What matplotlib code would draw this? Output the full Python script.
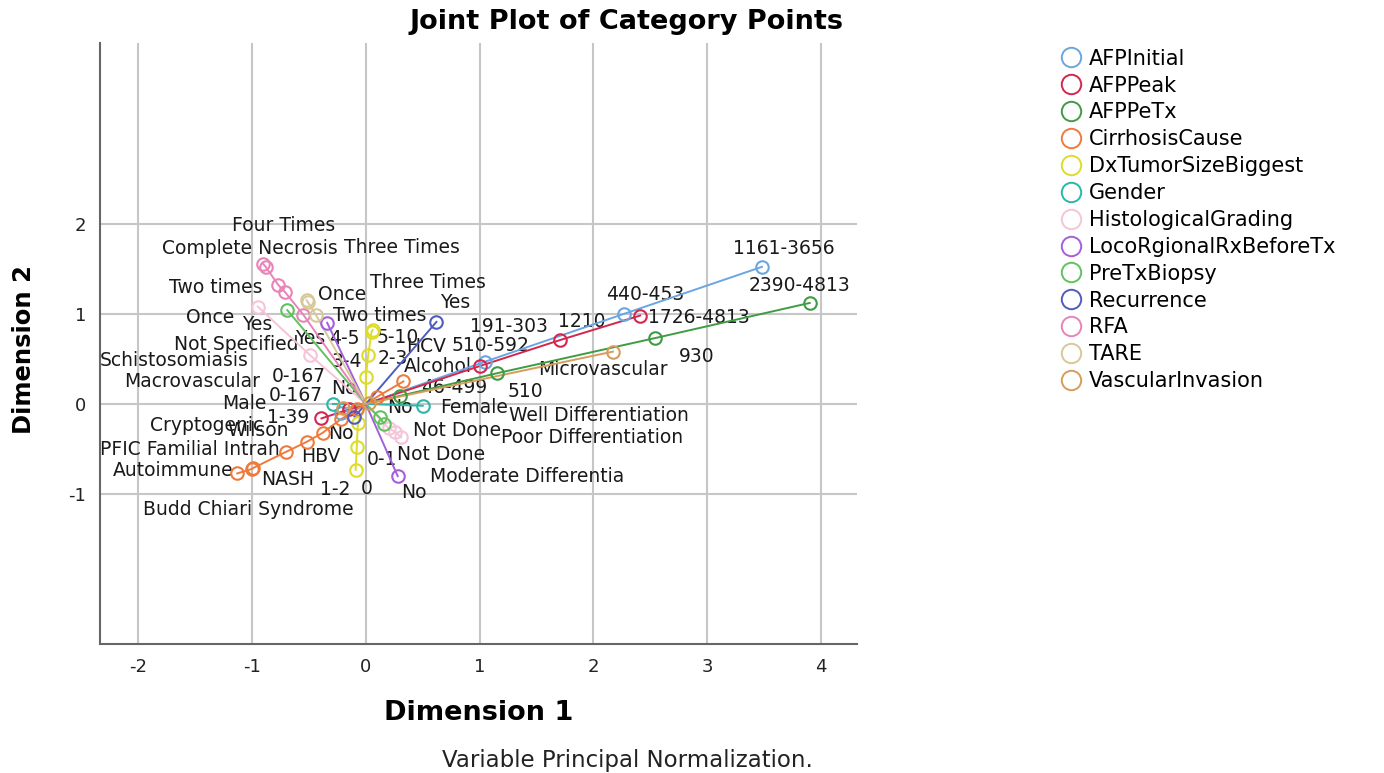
import matplotlib.pyplot as plt
from matplotlib.lines import Line2D

plt.rcParams['font.family'] = 'DejaVu Sans'
plt.rcParams['axes.unicode_minus'] = False

# category points: dimension 1 / dimension 2 per variable
afp_initial_cats = ['1161-3656', '440-453', '191-303', '0-167']
afp_initial_d1 = [3.48, 2.27, 1.05, -0.22]
afp_initial_d2 = [1.52, 1.00, 0.47, -0.10]

afp_peak_cats = ['1726-4813', '1210', '510-592', '0-167', '1-39']
afp_peak_d1 = [2.41, 1.71, 1.00, -0.15, -0.39]
afp_peak_d2 = [0.98, 0.71, 0.42, -0.06, -0.16]

afp_petx_cats = ['2390-4813', '930', '510', '46-499']
afp_petx_d1 = [3.90, 2.54, 1.15, 0.30]
afp_petx_d2 = [1.12, 0.73, 0.34, 0.09]

cirrhosis_cats = ['Autoimmune', 'NASH', 'Budd Chiari Syndrome', 'PFIC Familial Intrah',
                  'Cryptogenic', 'Wilson', 'HBV', 'Schistosomiasis', 'HCV', 'Alcohol']
cirrhosis_d1 = [-1.13, -0.99, -1.00, -0.70, -0.52, -0.38, -0.22, -0.08, 0.10, 0.33]
cirrhosis_d2 = [-0.77, -0.71, -0.72, -0.53, -0.42, -0.32, -0.17, -0.06, 0.08, 0.25]

tumor_cats = ['0', '1-2', '0-1', '3-4', '2-3', '4-5', '5-10']
tumor_d1 = [-0.09, -0.08, -0.07, 0.00, 0.02, 0.05, 0.06]
tumor_d2 = [-0.73, -0.48, -0.21, 0.30, 0.54, 0.80, 0.82]

gender_cats = ['Male', 'Female']
gender_d1 = [-0.29, 0.50]
gender_d2 = [0.00, -0.02]

histo_cats = ['Not Specified', 'Not Done', 'Well Differentiation',
              'Poor Differentiation', 'Moderate Differentia']
histo_d1 = [-0.95, -0.49, 0.20, 0.26, 0.31]
histo_d2 = [1.08, 0.54, -0.27, -0.31, -0.37]

loco_cats = ['Yes', 'No']
loco_d1 = [-0.34, 0.28]
loco_d2 = [0.90, -0.80]

biopsy_cats = ['Yes', 'No', 'Not Done']
biopsy_d1 = [-0.69, 0.12, 0.16]
biopsy_d2 = [1.04, -0.15, -0.22]

recur_cats = ['Yes', 'No']
recur_d1 = [0.62, -0.10]
recur_d2 = [0.91, -0.14]

rfa_cats = ['Complete Necrosis', 'Four Times', 'Three Times', 'Two times', 'Once']
rfa_d1 = [-0.90, -0.88, -0.77, -0.71, -0.55]
rfa_d2 = [1.55, 1.52, 1.32, 1.24, 0.99]

tare_cats = ['Once', 'Two times', 'Three Times']
tare_d1 = [-0.51, -0.44, -0.52]
tare_d2 = [1.13, 0.99, 1.15]

vasc_cats = ['Microvascular', 'Macrovascular', 'No']
vasc_d1 = [2.17, -0.20, 0.03]
vasc_d2 = [0.58, -0.05, 0.01]

variables = [
    ('AFPInitial', '#6aa6e0', afp_initial_cats, afp_initial_d1, afp_initial_d2),
    ('AFPPeak', '#d4264f', afp_peak_cats, afp_peak_d1, afp_peak_d2),
    ('AFPPeTx', '#3f9c44', afp_petx_cats, afp_petx_d1, afp_petx_d2),
    ('CirrhosisCause', '#ef7a3d', cirrhosis_cats, cirrhosis_d1, cirrhosis_d2),
    ('DxTumorSizeBiggest', '#dedc28', tumor_cats, tumor_d1, tumor_d2),
    ('Gender', '#2cb6a8', gender_cats, gender_d1, gender_d2),
    ('HistologicalGrading', '#f6c4d8', histo_cats, histo_d1, histo_d2),
    ('LocoRgionalRxBeforeTx', '#a45fdc', loco_cats, loco_d1, loco_d2),
    ('PreTxBiopsy', '#62c15f', biopsy_cats, biopsy_d1, biopsy_d2),
    ('Recurrence', '#4d5dbf', recur_cats, recur_d1, recur_d2),
    ('RFA', '#e884b8', rfa_cats, rfa_d1, rfa_d2),
    ('TARE', '#d8c898', tare_cats, tare_d1, tare_d2),
    ('VascularInvasion', '#d69c5c', vasc_cats, vasc_d1, vasc_d2),
]

# label offsets in pixels from each point (dx right, dy up)
label_offsets = {
    'AFPInitial': [(-29, 18), (-18, 19), (-15, 35), (-69, 36)],
    'AFPPeak': [(8, -2), (-2, 18), (-28, 21), (-80, 14), (-54, 1)],
    'AFPPeTx': [(-61, 17), (24, -18), (11, -18), (21, 8)],
    'CirrhosisCause': [(-124, 3), (8, -11), (-109, -41), (-186, 2), (-157, 16),
                       (-95, 2), (-40, -37), (-257, 49), (29, 50), (0, 15)],
    'DxTumorSizeBiggest': [(5, -19), (-37, -42), (9, -37), (-34, 15), (9, -3),
                           (-42, -7), (4, -8)],
    'Gender': [(-111, 0), (17, -2)],
    'HistologicalGrading': [(-84, -38), (103, -75), (120, 13), (106, -6), (29, -39)],
    'LocoRgionalRxBeforeTx': [(-32, -16), (3, -16)],
    'PreTxBiopsy': [(-45, -14), (8, 10), (13, -31)],
    'Recurrence': [(4, 19), (-26, -17)],
    'RFA': [(-101, 16), (-34, 41), (66, 37), (-116, 5), (-117, -3)],
    'TARE': [(10, 8), (17, -1), (63, 18)],
    'VascularInvasion': [(-75, -18), (-219, 27), (-38, 15)],
}

fig = plt.figure(figsize=(13.84, 7.73), dpi=100)
ax = fig.add_axes([0.0725, 0.1669, 0.5467, 0.7775])

for name, color, cats, d1, d2 in variables:
    # line runs through the origin, ordered along the variable's direction
    fx, fy = max(zip(d1, d2), key=lambda p: p[0] ** 2 + p[1] ** 2)
    pts = sorted(list(zip(d1, d2)) + [(0.0, 0.0)], key=lambda p: p[0] * fx + p[1] * fy)
    ax.plot([p[0] for p in pts], [p[1] for p in pts], color=color, lw=1.4, zorder=3)
    ax.plot(d1, d2, 'o', mfc='none', mec=color, ms=9, mew=1.5, zorder=4)
    for cat, x, y, (dx, dy) in zip(cats, d1, d2, label_offsets[name]):
        ax.annotate(cat, (x, y), xytext=(dx, dy), textcoords='offset pixels',
                    ha='left', va='center', fontsize=13.5, color='#1a1a1a', zorder=2)

ax.set_xlim(-2.333, 4.315)
ax.set_ylim(-2.661, 4.002)
ax.set_xticks([-2, -1, 0, 1, 2, 3, 4])
ax.set_yticks([-1, 0, 1, 2])
ax.grid(True, color='#c6c6c6', lw=1.5, zorder=0)
ax.set_axisbelow(True)
ax.tick_params(length=0, labelsize=13, pad=10, colors='#222222')
for side in ['top', 'right']:
    ax.spines[side].set_visible(False)
for side in ['left', 'bottom']:
    ax.spines[side].set_color('#666666')
    ax.spines[side].set_linewidth(1.5)

ax.set_xlabel('Dimension 1', fontsize=19.5, fontweight='bold')
ax.xaxis.set_label_coords(0.5, -0.093)
ax.set_ylabel('Dimension 2', fontsize=17.5, fontweight='bold')
ax.yaxis.set_label_coords(-0.085, 0.49)

fig.text(627 / 1384, 1 - 22 / 773, 'Joint Plot of Category Points',
         ha='center', va='center', fontsize=19.5, fontweight='bold')
fig.text(627 / 1384, 1 - 761 / 773, 'Variable Principal Normalization.',
         ha='center', va='center', fontsize=16.5, color='#222222')

handles = [Line2D([], [], ls='none', marker='o', mfc='none', mec=c, ms=14, mew=1.4)
           for _, c, _, _, _ in variables]
fig.legend(handles, [v[0] for v in variables], loc='upper left',
           bbox_to_anchor=(0.766, 0.937), frameon=False, fontsize=15,
           borderpad=0, borderaxespad=0, handlelength=1.0, handletextpad=0.4,
           labelspacing=0.33)

fig.savefig('out.png', dpi=100)
